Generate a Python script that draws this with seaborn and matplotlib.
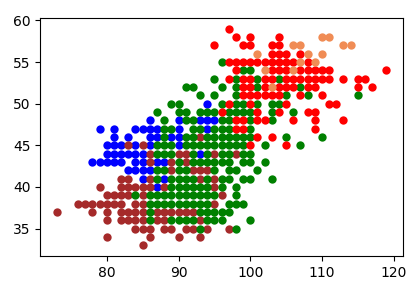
import matplotlib
matplotlib.use("Agg")
import matplotlib.pyplot as plt
import seaborn as sns
import pandas as pd

# Each dict: y value -> list of x values for that colour group
blue_rows = {
    50: [94],
    48: [86, 90, 93, 94, 95],
    47: [79, 81, 84, 85, 86, 87, 90, 94],
    46: [81, 83, 86, 87, 89, 90],
    45: [80, 81, 82, 84, 86, 90],
    44: [80, 81, 82, 83, 84, 85, 93],
    43: [78, 79, 80, 81, 82, 84, 85, 87, 88],
    42: [83, 84, 85, 86],
    41: [85, 88],
    40: [87],
}

brown_rows = {
    46: [93],
    45: [83, 85],
    44: [86, 90, 91, 95, 98],
    43: [86, 89, 91],
    42: [89, 92, 93, 94],
    41: [82, 83, 86, 93, 95],
    40: [79, 82, 83, 84, 85, 86, 88, 95],
    39: [80, 81, 82, 83, 85, 96],
    38: [76, 77, 78, 79, 80, 81, 82, 84, 85, 95],
    37: [73, 78, 80, 82, 83, 84, 85, 87, 88, 89, 90, 91, 92],
    36: [80, 82, 83, 84, 85, 87, 88, 93],
    35: [84, 85, 86, 88, 89, 91, 92, 94, 97],
    34: [80, 86, 90, 93],
    33: [85],
}

green_rows = {
    55: [96],
    54: [99, 100],
    53: [95, 98, 101, 104],
    52: [91, 92, 96, 98, 101, 107],
    51: [93, 95, 98, 105, 108, 115],
    50: [89, 90, 96, 98, 99, 101, 103, 104],
    49: [87, 90, 91, 93, 94, 95, 97, 98, 99, 100, 103, 106],
    48: [88, 91, 92, 96, 97, 100, 103],
    47: [88, 89, 92, 93, 95, 96, 97, 100],
    46: [88, 91, 92, 94, 95, 96, 97, 98, 99, 100, 105, 110],
    45: [87, 88, 89, 91, 92, 93, 94, 95, 96, 97, 98, 99, 102, 107],
    44: [87, 88, 89, 92, 94, 96, 97, 99, 100],
    43: [90, 92, 93, 94, 95, 96, 97, 99, 100, 102],
    42: [87, 88, 90, 91, 95, 97, 98, 101],
    41: [87, 89, 90, 91, 92, 94, 96, 97, 99, 100, 103],
    40: [89, 90, 91, 92, 93, 94, 96, 98],
    39: [84, 86, 87, 88, 89, 90, 91, 92, 93, 94, 95, 98],
    38: [86, 87, 88, 89, 90, 91, 92, 93, 94, 97, 98, 99],
    37: [86, 93, 94, 95, 96, 97],
    36: [86, 89, 90, 91, 92, 94, 95, 96, 100],
    35: [93, 98],
}

red_rows = {
    59: [97],
    58: [98, 100, 104],
    57: [95, 99, 100, 103, 104],
    56: [103, 104, 105, 107],
    55: [97, 98, 99, 100, 101, 102, 103, 104, 105, 106, 108],
    54: [98, 103, 104, 105, 107, 108, 109, 110, 111, 119],
    53: [97, 99, 100, 102, 103, 105, 106, 107, 108, 109, 110, 111, 113, 115, 116],
    52: [99, 100, 102, 104, 105, 106, 108, 109, 115, 117],
    51: [99, 100, 101, 102, 103, 104, 107, 110],
    50: [97, 100, 105, 111, 112],
    49: [96, 101, 104, 108, 109],
    48: [98, 99, 101, 102, 106, 109, 113],
    47: [98, 99, 109],
    46: [101, 103],
    45: [100, 105],
}

orange_rows = {
    58: [110, 111],
    57: [106, 107, 113, 114],
    56: [101, 108, 110],
    55: [107, 109],
    54: [102, 106],
    52: [103],
}

groups = ["blue", "brown", "green", "red", "orange"]
palette = {"blue": "blue", "brown": "brown", "green": "green",
           "red": "red", "orange": "#F08C55"}

records = []
for name, rows in zip(groups, [blue_rows, brown_rows, green_rows, red_rows, orange_rows]):
    for yv, xs in rows.items():
        for xv in xs:
            records.append({"x": xv, "y": yv, "group": name})
df = pd.DataFrame(records)

fig, ax = plt.subplots(figsize=(4.18, 2.81), dpi=100)
fig.subplots_adjust(left=0.096, right=0.964, top=0.936, bottom=0.089)

for name in groups:
    sub = df[df["group"] == name]
    sns.scatterplot(data=sub, x="x", y="y", color=palette[name], s=36,
                    linewidth=0, ax=ax, legend=False)

ax.set_xlabel("")
ax.set_ylabel("")
ax.set_xticks([80, 90, 100, 110, 120])
ax.set_yticks([35, 40, 45, 50, 55, 60])
ax.set_xlim(70.7, 121.3)
ax.set_ylim(31.7, 60.3)

fig.savefig("out.png", dpi=100)
